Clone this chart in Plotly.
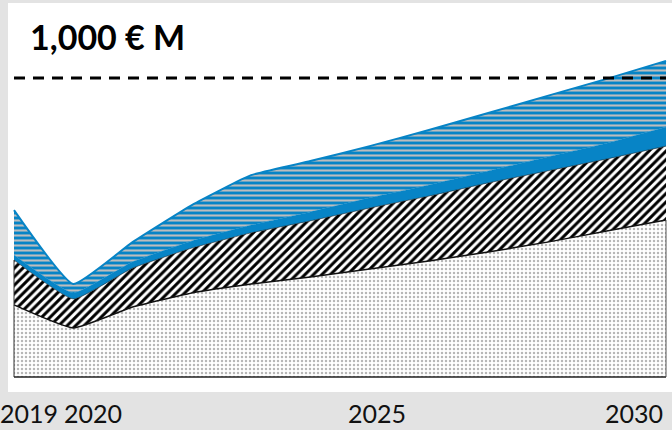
import plotly.graph_objects as go

years = [2019, 2020, 2021, 2022, 2023, 2024, 2025, 2026, 2027, 2028, 2029, 2030]
base_layer = [241, 164, 234, 281, 311, 334, 361, 388, 418, 451, 488, 525]
hatched_layer = [150, 97, 130, 150, 171, 188, 204, 217, 231, 238, 241, 247]
blue_layer = [17, 20, 21, 24, 26, 30, 34, 37, 40, 47, 53, 64]
striped_layer = [150, 30, 66, 120, 167, 170, 173, 184, 194, 204, 215, 221]
reference_level = 1000
title_text = "1,000 € M"
label_years = [2019, 2020, 2025, 2030]
label_text = ["2019", "2020", "2025", "2030"]
label_shift = [15, 20, 7, -32]

BLUE = "#0784C6"

fig = go.Figure()
fig.add_trace(go.Scatter(
    x=years, y=base_layer, stackgroup="s", mode="lines",
    line=dict(color="#111111", width=1.5, shape="spline", smoothing=0.4),
    fillcolor="white",
    fillpattern=dict(shape=".", fgcolor="#6e6e6e", bgcolor="white", size=4, solidity=0.3,
                     fgopacity=0.5),
    hoverinfo="skip"))
fig.add_trace(go.Scatter(
    x=years, y=hatched_layer, stackgroup="s", mode="lines",
    line=dict(color="#111111", width=0.5, shape="spline", smoothing=0.4),
    fillcolor="white",
    fillpattern=dict(shape="/", fgcolor="#000000", bgcolor="white", size=6, solidity=0.5,
                     fgopacity=1),
    hoverinfo="skip"))
fig.add_trace(go.Scatter(
    x=years, y=blue_layer, stackgroup="s", mode="lines",
    line=dict(color=BLUE, width=0.5, shape="spline", smoothing=0.4),
    fillcolor=BLUE, hoverinfo="skip"))
fig.add_trace(go.Scatter(
    x=years, y=striped_layer, stackgroup="s", mode="lines",
    line=dict(color=BLUE, width=2, shape="spline", smoothing=0.4),
    fillcolor=BLUE,
    fillpattern=dict(shape="-", fgcolor="#bdbdbd", bgcolor=BLUE, size=5, solidity=0.42,
                     fgopacity=1),
    hoverinfo="skip"))

fig.add_shape(type="line", xref="x", yref="y", x0=years[0], x1=years[-1],
              y0=reference_level, y1=reference_level,
              line=dict(color="black", width=3, dash="11px,8px"))
# baseline and side edges of the lower layers
fig.add_shape(type="line", xref="x", yref="y", x0=years[0], x1=years[-1], y0=0, y1=0,
              line=dict(color="#222222", width=1.5))
fig.add_shape(type="line", xref="x", yref="y", x0=years[0], x1=years[0], y0=0,
              y1=base_layer[0] + hatched_layer[0], line=dict(color="#333333", width=1))
fig.add_shape(type="line", xref="x", yref="y", x0=years[-1], x1=years[-1], y0=0,
              y1=base_layer[-1], line=dict(color="#555555", width=1))

fig.add_annotation(text="<b>" + title_text + "</b>", xref="paper", yref="paper",
                   x=0.03, y=0.913, xanchor="left", yanchor="middle", showarrow=False,
                   font=dict(family="Lato", size=34, color="black"))

for yr, txt, sh in zip(label_years, label_text, label_shift):
    fig.add_annotation(text=txt, xref="x", yref="paper", x=yr, y=-0.054,
                       xshift=sh, xanchor="center", yanchor="middle", showarrow=False,
                       font=dict(family="Lato", size=25, color="#111111"))

px_per_year = 59.27
units_per_px = 3.344
fig.update_layout(
    width=672, height=430,
    margin=dict(l=8, r=0, t=3, b=38),
    paper_bgcolor="#e3e3e3",
    plot_bgcolor="white",
    showlegend=False,
    xaxis=dict(range=[years[0] - 6 / px_per_year, years[-1] + 6 / px_per_year],
               showgrid=False, zeroline=False, showticklabels=False, showline=False),
    yaxis=dict(range=[-15 * units_per_px, 374 * units_per_px],
               showgrid=False, zeroline=False,
               showticklabels=False, showline=False),
)
fig.write_html("out.html")
